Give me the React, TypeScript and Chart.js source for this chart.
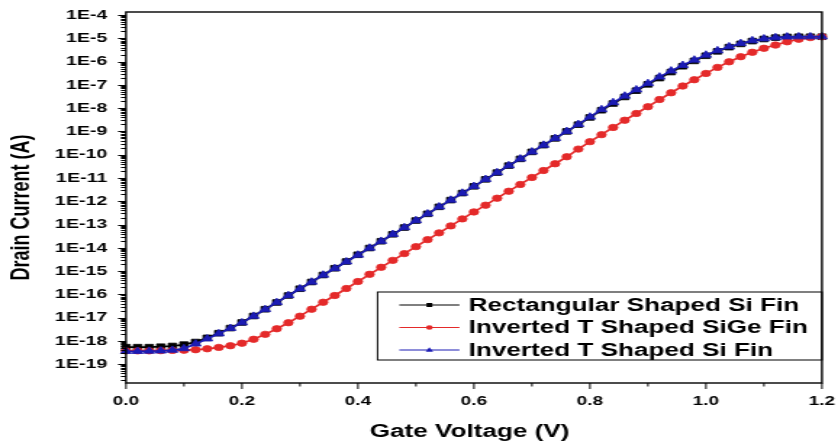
import { useEffect, useRef } from "react";
import { Chart, registerables } from "chart.js";

Chart.register(...registerables);

const gateVoltage = [
  0.0, 0.02, 0.04, 0.06, 0.08, 0.1, 0.12, 0.14, 0.16, 0.18,
  0.2, 0.22, 0.24, 0.26, 0.28, 0.3, 0.32, 0.34, 0.36, 0.38,
  0.4, 0.42, 0.44, 0.46, 0.48, 0.5, 0.52, 0.54, 0.56, 0.58,
  0.6, 0.62, 0.64, 0.66, 0.68, 0.7, 0.72, 0.74, 0.76, 0.78,
  0.8, 0.82, 0.84, 0.86, 0.88, 0.9, 0.92, 0.94, 0.96, 0.98,
  1.0, 1.02, 1.04, 1.06, 1.08, 1.1, 1.12, 1.14, 1.16, 1.18, 1.2,
];
const rectangularSiFin = [
  5.37e-19, 5.37e-19, 5.37e-19, 5.62e-19, 6.03e-19, 6.92e-19, 8.91e-19, 1.35e-18, 2.14e-18, 3.55e-18,
  6.17e-18, 1.17e-17, 2.29e-17, 4.47e-17, 8.91e-17, 1.74e-16, 3.39e-16, 6.76e-16, 1.32e-15, 2.57e-15,
  5.01e-15, 9.77e-15, 1.91e-14, 3.8e-14, 7.41e-14, 1.48e-13, 2.88e-13, 5.75e-13, 1.12e-12, 2.24e-12,
  4.37e-12, 8.71e-12, 1.7e-11, 3.39e-11, 6.61e-11, 1.32e-10, 2.57e-10, 5.01e-10, 1.0e-9, 1.95e-9,
  3.98e-9, 8.13e-9, 1.58e-8, 3.02e-8, 5.62e-8, 1.05e-7, 1.95e-7, 3.55e-7, 6.31e-7, 1.07e-6,
  1.78e-6, 2.75e-6, 4.17e-6, 5.75e-6, 7.59e-6, 9.33e-6, 1.07e-5, 1.15e-5, 1.17e-5, 1.17e-5, 1.17e-5,
];
const invertedTSiGeFin = [
  3.72e-19, 3.72e-19, 3.72e-19, 3.8e-19, 3.89e-19, 3.98e-19, 4.17e-19, 4.57e-19, 5.25e-19, 6.17e-19,
  7.94e-19, 1.17e-18, 1.91e-18, 3.31e-18, 6.03e-18, 1.15e-17, 2.29e-17, 4.57e-17, 8.91e-17, 1.78e-16,
  3.55e-16, 7.24e-16, 1.45e-15, 2.88e-15, 5.62e-15, 1.12e-14, 2.24e-14, 4.37e-14, 8.71e-14, 1.74e-13,
  3.47e-13, 6.76e-13, 1.35e-12, 2.69e-12, 5.25e-12, 1.05e-11, 2.09e-11, 4.07e-11, 8.13e-11, 1.74e-10,
  3.63e-10, 7.24e-10, 1.48e-9, 3.02e-9, 5.89e-9, 1.15e-8, 2.34e-8, 4.57e-8, 8.91e-8, 1.66e-7,
  3.09e-7, 5.62e-7, 9.77e-7, 1.62e-6, 2.51e-6, 3.72e-6, 5.13e-6, 7.08e-6, 9.12e-6, 1.07e-5, 1.17e-5,
];
const invertedTSiFin = [
  3.55e-19, 3.55e-19, 3.63e-19, 3.72e-19, 3.98e-19, 4.68e-19, 7.41e-19, 1.23e-18, 2.04e-18, 3.47e-18,
  6.03e-18, 1.15e-17, 2.24e-17, 4.47e-17, 8.91e-17, 1.74e-16, 3.39e-16, 6.76e-16, 1.29e-15, 2.51e-15,
  4.9e-15, 9.77e-15, 1.91e-14, 3.8e-14, 7.41e-14, 1.48e-13, 2.88e-13, 5.75e-13, 1.12e-12, 2.24e-12,
  4.37e-12, 8.71e-12, 1.7e-11, 3.39e-11, 6.61e-11, 1.32e-10, 2.57e-10, 5.01e-10, 1.0e-9, 2.0e-9,
  4.17e-9, 8.71e-9, 1.74e-8, 3.31e-8, 6.17e-8, 1.15e-7, 2.19e-7, 3.98e-7, 6.92e-7, 1.17e-6,
  1.91e-6, 2.95e-6, 4.37e-6, 6.03e-6, 7.94e-6, 9.55e-6, 1.07e-5, 1.15e-5, 1.17e-5, 1.17e-5, 1.17e-5,
];

const seriesLabels = [
  "Rectangular Shaped Si Fin",
  "Inverted T Shaped SiGe Fin",
  "Inverted T Shaped Si Fin",
];
const seriesColors = ["#000000", "#e42a2a", "#1c1cb4"];
const seriesMarkers = ["rect", "circle", "triangle"];

const xTickValues = [0, 0.2, 0.4, 0.6, 0.8, 1.0, 1.2];
const xMinorTickValues = [0.1, 0.3, 0.5, 0.7, 0.9, 1.1];
const yTickValues = [
  1e-19, 1e-18, 1e-17, 1e-16, 1e-15, 1e-14, 1e-13, 1e-12,
  1e-11, 1e-10, 1e-9, 1e-8, 1e-7, 1e-6, 1e-5, 1e-4,
];
const yTickLabels = [
  "1E-19", "1E-18", "1E-17", "1E-16", "1E-15", "1E-14", "1E-13", "1E-12",
  "1E-11", "1E-10", "1E-9", "1E-8", "1E-7", "1E-6", "1E-5", "1E-4",
];
const yMinorMultipliers = [2, 3, 4, 5, 6, 7, 8, 9];
const yMinorDecades = [
  1e-20, 1e-19, 1e-18, 1e-17, 1e-16, 1e-15, 1e-14, 1e-13,
  1e-12, 1e-11, 1e-10, 1e-9, 1e-8, 1e-7, 1e-6, 1e-5, 1e-4,
];
const xTitle = "Gate Voltage (V)";
const yTitle = "Drain Current (A)";

const CSS_W = 838;
const CSS_H = 442;
const SX = 1.45;
const W = Math.round(CSS_W / SX);
const H = CSS_H;
const FONT = "'Liberation Sans', Arial, Helvetica, sans-serif";

const zeroPadding = (s: any) => {
  s.paddingTop = 0;
  s.paddingBottom = 0;
  s.paddingLeft = 0;
  s.paddingRight = 0;
};

const decorPlugin = {
  id: "decor",
  afterDatasetsDraw(chart: any) {
    const { ctx, chartArea: a, scales } = chart;
    const xs = scales.x;
    const ys = scales.y;
    ctx.save();
    ctx.strokeStyle = "#000";
    ctx.fillStyle = "#000";

    ctx.lineWidth = 1.4;
    ctx.strokeRect(a.left, a.top, a.right - a.left, a.bottom - a.top);

    ctx.lineWidth = 1;
    ctx.beginPath();
    yTickValues.forEach((v) => {
      const py = Math.round(ys.getPixelForValue(v)) + 0.5;
      ctx.moveTo(a.left, py);
      ctx.lineTo(a.left - 5.5, py);
    });
    yMinorDecades.forEach((d) => {
      yMinorMultipliers.forEach((m) => {
        const v = d * m;
        if (v < ys.min || v > ys.max) return;
        const py = Math.round(ys.getPixelForValue(v)) + 0.5;
        ctx.moveTo(a.left, py);
        ctx.lineTo(a.left - 3.5, py);
      });
    });
    ctx.stroke();

    ctx.beginPath();
    xTickValues.forEach((v) => {
      const px = xs.getPixelForValue(v);
      ctx.moveTo(px, a.bottom);
      ctx.lineTo(px, a.bottom + 6);
    });
    xMinorTickValues.forEach((v) => {
      const px = xs.getPixelForValue(v);
      ctx.moveTo(px, a.bottom);
      ctx.lineTo(px, a.bottom + 3.5);
    });
    ctx.stroke();

    ctx.font = `bold 18px ${FONT}`;
    ctx.textAlign = "center";
    ctx.textBaseline = "middle";
    ctx.fillText(xTitle, (a.left + a.right) / 2 - 3, 432);
    ctx.save();
    ctx.translate(15.5, 207.5);
    ctx.rotate(-Math.PI / 2);
    ctx.fillText(yTitle, 0, 0);
    ctx.restore();

    const boxRight = a.right;
    const boxLeft = boxRight - 306.5;
    const boxTop = a.bottom - 91;
    const boxBottom = a.bottom - 23;
    ctx.lineWidth = 1;
    ctx.strokeRect(boxLeft, boxTop, boxRight - boxLeft, boxBottom - boxTop);
    const rows = [13, 35.5, 58];
    seriesLabels.forEach((label, i) => {
      const y = boxTop + rows[i];
      const x0 = boxLeft + 15;
      const x1 = boxLeft + 56.5;
      const cx = (x0 + x1) / 2;
      ctx.strokeStyle = seriesColors[i];
      ctx.fillStyle = seriesColors[i];
      ctx.lineWidth = 1;
      ctx.beginPath();
      ctx.moveTo(x0, y);
      ctx.lineTo(x1, y);
      ctx.stroke();
      ctx.beginPath();
      if (seriesMarkers[i] === "rect") {
        ctx.rect(cx - 2, y - 2, 4, 4);
      } else if (seriesMarkers[i] === "circle") {
        ctx.arc(cx, y, 2.3, 0, Math.PI * 2);
      } else {
        ctx.moveTo(cx, y - 2.8);
        ctx.lineTo(cx + 2.6, y + 1.8);
        ctx.lineTo(cx - 2.6, y + 1.8);
        ctx.closePath();
      }
      ctx.fill();
      ctx.fillStyle = "#000";
      ctx.font = `bold 18px ${FONT}`;
      ctx.textAlign = "left";
      ctx.textBaseline = "middle";
      ctx.fillText(label, boxLeft + 62.8, y + 1);
    });

    ctx.restore();
  },
};

function buildDataset(i: number, values: number[], order: number, radius: number) {
  return {
    label: seriesLabels[i],
    data: gateVoltage.map((x, k) => ({ x, y: values[k] })),
    borderColor: seriesColors[i],
    backgroundColor: seriesColors[i],
    pointBackgroundColor: seriesColors[i],
    pointBorderColor: seriesColors[i],
    borderWidth: 1.7,
    pointStyle: seriesMarkers[i],
    pointRadius: radius,
    pointHoverRadius: radius,
    pointBorderWidth: 0.8,
    tension: 0,
    order,
    clip: false,
  };
}

export default function App() {
  const canvasRef = useRef<HTMLCanvasElement | null>(null);

  useEffect(() => {
    const canvas = canvasRef.current;
    if (!canvas) return;
    const chart = new Chart(canvas, {
      type: "line",
      data: {
        datasets: [
          buildDataset(0, rectangularSiFin, 2, 4),
          buildDataset(1, invertedTSiGeFin, 1, 3.2),
          buildDataset(2, invertedTSiFin, 0, 4.3),
        ] as any,
      },
      options: {
        responsive: false,
        animation: false,
        devicePixelRatio: 1,
        events: [],
        layout: {
          autoPadding: false,
          padding: { top: 12, right: W - 822 / SX, left: 0, bottom: 0 },
        },
        plugins: {
          legend: { display: false },
          tooltip: { enabled: false },
          title: { display: false },
        },
        scales: {
          x: {
            type: "linear",
            min: 0,
            max: 1.2,
            bounds: "data",
            afterBuildTicks: (s: any) => {
              s.ticks = xTickValues.map((v) => ({ value: v }));
            },
            afterFit: (s: any) => {
              s.height = 59;
              zeroPadding(s);
            },
            ticks: {
              autoSkip: false,
              maxRotation: 0,
              padding: 5,
              color: "#000",
              font: { family: FONT, size: 13, weight: "bold" },
              callback: (v: any) => Number(v).toFixed(1),
            },
            grid: { display: false, drawTicks: true, tickLength: 6 },
            border: { display: false },
          },
          y: {
            type: "logarithmic",
            min: 1.55e-20,
            max: 1.35e-4,
            bounds: "data",
            afterBuildTicks: (s: any) => {
              s.ticks = yTickValues.map((v) => ({ value: v }));
            },
            afterFit: (s: any) => {
              s.width = 126 / SX;
              zeroPadding(s);
            },
            ticks: {
              autoSkip: false,
              padding: 7.5,
              color: "#000",
              font: { family: FONT, size: 13.5, weight: "bold" },
              callback: (_v: any, index: number) => yTickLabels[index],
            },
            grid: { display: false, drawTicks: true, tickLength: 5.5 },
            border: { display: false },
          },
        },
      } as any,
      plugins: [decorPlugin],
    });
    return () => chart.destroy();
  }, []);

  return (
    <div
      style={{
        position: "fixed",
        left: 0,
        top: 0,
        width: CSS_W,
        height: CSS_H,
        background: "#fff",
        overflow: "hidden",
      }}
    >
      <canvas
        ref={canvasRef}
        width={W}
        height={H}
        style={{ width: CSS_W + "px", height: CSS_H + "px", display: "block" }}
      />
    </div>
  );
}
